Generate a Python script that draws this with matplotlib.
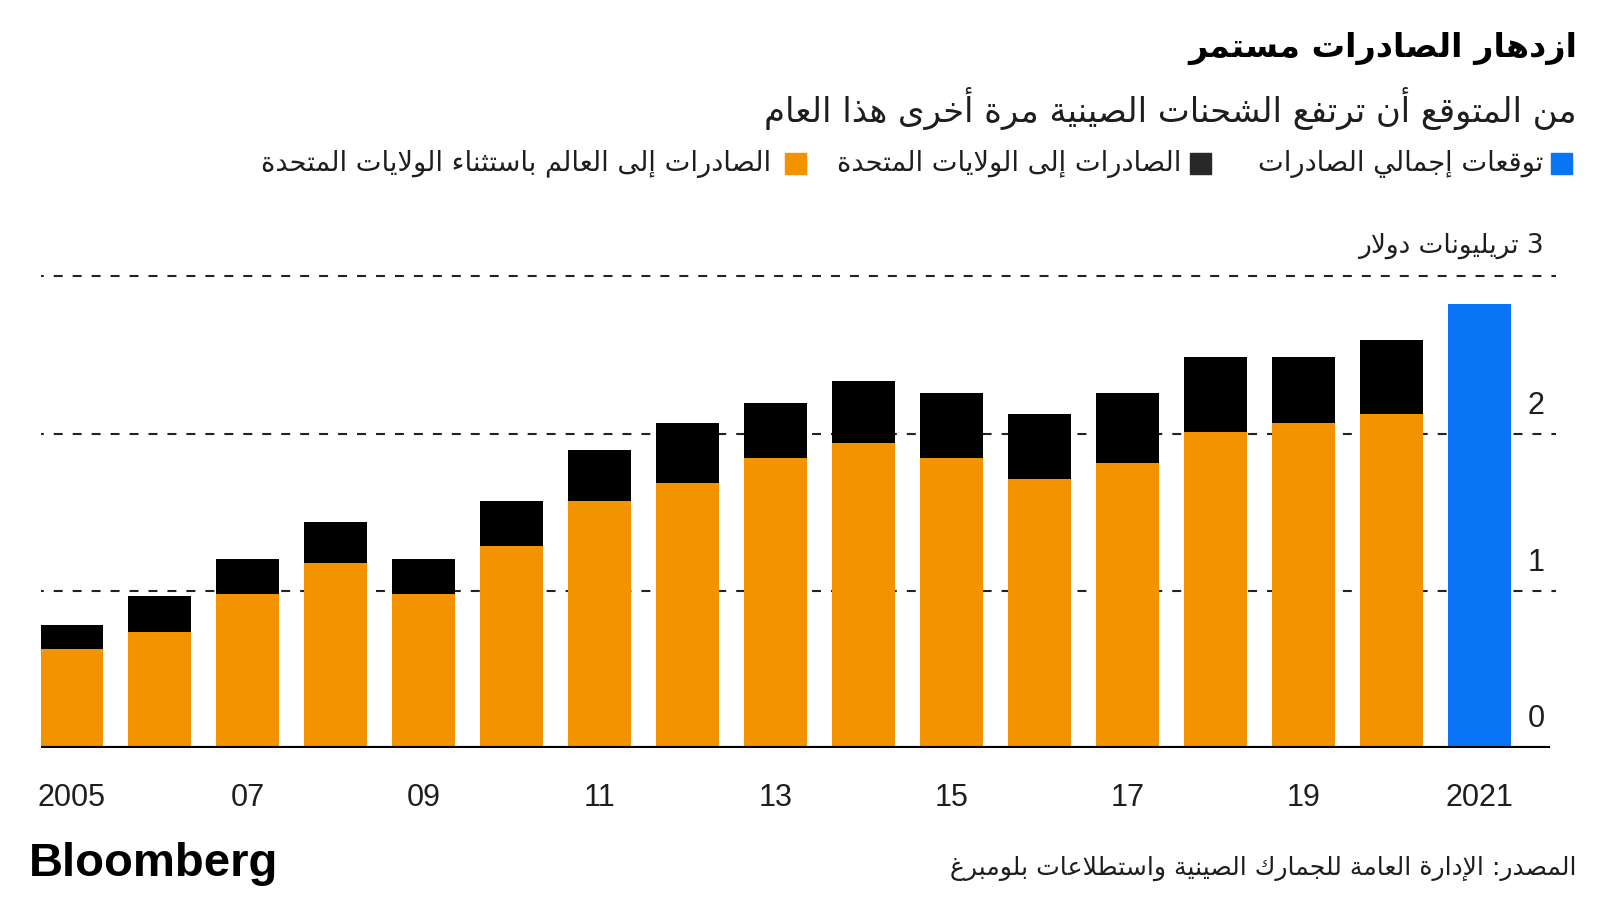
import re
import matplotlib
matplotlib.use("Agg")
import matplotlib.pyplot as plt
from matplotlib.patches import Rectangle

# ---- data (trillion USD) ----
years = list(range(2005, 2021))
exports_ex_us = [0.63, 0.74, 0.98, 1.175, 0.977, 1.283, 1.571, 1.684,
                 1.843, 1.94, 1.843, 1.713, 1.811, 2.012, 2.07, 2.125]
exports_us = [0.15, 0.225, 0.22, 0.265, 0.223, 0.288, 0.325, 0.386,
              0.354, 0.397, 0.413, 0.412, 0.445, 0.478, 0.42, 0.472]
forecast_year = 2021
forecast_total = 2.824

tick_years = [2005, 2007, 2009, 2011, 2013, 2015, 2017, 2019, 2021]
tick_labels = ["2005", "07", "09", "11", "13", "15", "17", "19", "2021"]
y_ticks = [0, 1, 2]

title = "ازدهار الصادرات مستمر"
subtitle = "من المتوقع أن ترتفع الشحنات الصينية مرة أخرى هذا العام"
legend_labels = ["توقعات إجمالي الصادرات",
                 "الصادرات إلى الولايات المتحدة",
                 "الصادرات إلى العالم باستثناء الولايات المتحدة"]
unit_label = "3 تريليونات دولار"
source = "المصدر: الإدارة العامة للجمارك الصينية واستطلاعات بلومبرغ"

ORANGE = "#F49300"
BLACK = "#000000"
BLUE = "#0A74F6"
TEXT = "#1e1e1e"

# ---- minimal arabic shaping (matplotlib has no bidi / joining) ----
AR_LETTERS = "ءآأؤإئابةتثجحخدذرزسشصضطظعغفقكلمنهوىي"
AR_NFORMS = [1, 2, 2, 2, 2, 4, 2, 4, 2, 4, 4, 4, 4, 4, 2, 2, 2, 2, 4, 4,
             4, 4, 4, 4, 4, 4, 4, 4, 4, 4, 4, 4, 4, 2, 2, 4]
FORMS = {}
code = 0xFE80
for ch, nf in zip(AR_LETTERS, AR_NFORMS):
    FORMS[ch] = (code, nf)
    code += nf
LAM_ALEF = {"آ": 0xFEF5, "أ": 0xFEF7, "إ": 0xFEF9, "ا": 0xFEFB}


def shape_arabic(text):
    out = []
    i = 0
    n = len(text)
    while i < n:
        c = text[i]
        if c not in FORMS:
            out.append(c)
            i += 1
            continue
        prev = text[i - 1] if i > 0 else ""
        connect_prev = prev in FORMS and FORMS[prev][1] == 4
        if c == "ل" and i + 1 < n and text[i + 1] in LAM_ALEF:
            out.append(chr(LAM_ALEF[text[i + 1]] + (1 if connect_prev else 0)))
            i += 2
            continue
        start, nf = FORMS[c]
        nxt = text[i + 1] if i + 1 < n else ""
        connect_next = nf == 4 and nxt in FORMS
        if nf == 1:
            form = 0
        elif connect_prev and connect_next:
            form = 3
        elif connect_prev:
            form = 1
        elif connect_next:
            form = 2
        else:
            form = 0
        out.append(chr(start + form))
        i += 1
    return "".join(out)


def rtl(text):
    s = shape_arabic(text)[::-1]
    return re.sub(r"[0-9A-Za-z.]+", lambda m: m.group(0)[::-1], s)


plt.rcParams["font.family"] = ["DejaVu Sans"]

fig = plt.figure(figsize=(16, 9), dpi=100)
ax = fig.add_axes([0.0256, 0.1689, 0.9469, 0.5327])

x = [y - 2005 for y in years]
ax.bar(x, exports_ex_us, width=0.716, color=ORANGE, zorder=2)
ax.bar(x, exports_us, width=0.716, bottom=exports_ex_us, color=BLACK, zorder=2)
ax.bar([forecast_year - 2005], [forecast_total], width=0.716, color=BLUE, zorder=2)

for v in [1, 2, 3]:
    ax.axhline(v, color="#222222", lw=1.5, ls=(3, (4.3, 4.8)), zorder=1)
ax.axhline(0, color="black", lw=3, xmax=0.995, zorder=3)

ax.set_xlim(-0.3466, 16.869)
ax.set_ylim(0, 3.05)
ax.set_xticks([t - 2005 for t in tick_years])
ax.set_xticklabels(tick_labels, family="Liberation Sans", fontsize=22, color=TEXT)
ax.tick_params(axis="x", length=0, pad=25)
ax.set_yticks([])
for s in ax.spines.values():
    s.set_visible(False)

label_x = 16.64
for v in y_ticks:
    ax.annotate(str(v), (label_x, v), xytext=(0, 21 if v == 0 else 20),
                textcoords="offset points", ha="center", va="center",
                family="Liberation Sans", fontsize=22, color=TEXT)
ax.annotate(rtl(unit_label), (16.869, 3), xytext=(-9, 22), textcoords="offset points",
            ha="right", va="center", fontsize=19, color=TEXT, annotation_clip=False)

# header
fig.text(0.9856, 0.9467, rtl(title), ha="right", va="center",
         fontsize=24, fontweight="bold", color="black")
fig.text(0.9856, 0.879, rtl(subtitle), ha="right", va="center",
         fontsize=24.4, color=TEXT)

# legend
legend_colors = [BLUE, "#282828", ORANGE]
square_x = [1551, 1190, 785]
text_right = [1543, 1181, 771]
for lab, col, sx, tr in zip(legend_labels, legend_colors, square_x, text_right):
    fig.patches.append(Rectangle((sx / 1600, 1 - 174 / 900), 21 / 1600, 21 / 900,
                                 transform=fig.transFigure, color=col))
    fig.text(tr / 1600, 1 - 164 / 900, rtl(lab), ha="right", va="center",
             fontsize=19.6, color=TEXT)

# footer
fig.text(0.9856, 1 - 868 / 900, rtl(source), ha="right", va="center",
         fontsize=18.1, color=TEXT)
fig.text(0.018, 1 - 864 / 900, "Bloomberg", ha="left", va="center",
         family="Liberation Sans", fontsize=34, fontweight="bold", color="black")

fig.savefig("out.png", dpi=100)
